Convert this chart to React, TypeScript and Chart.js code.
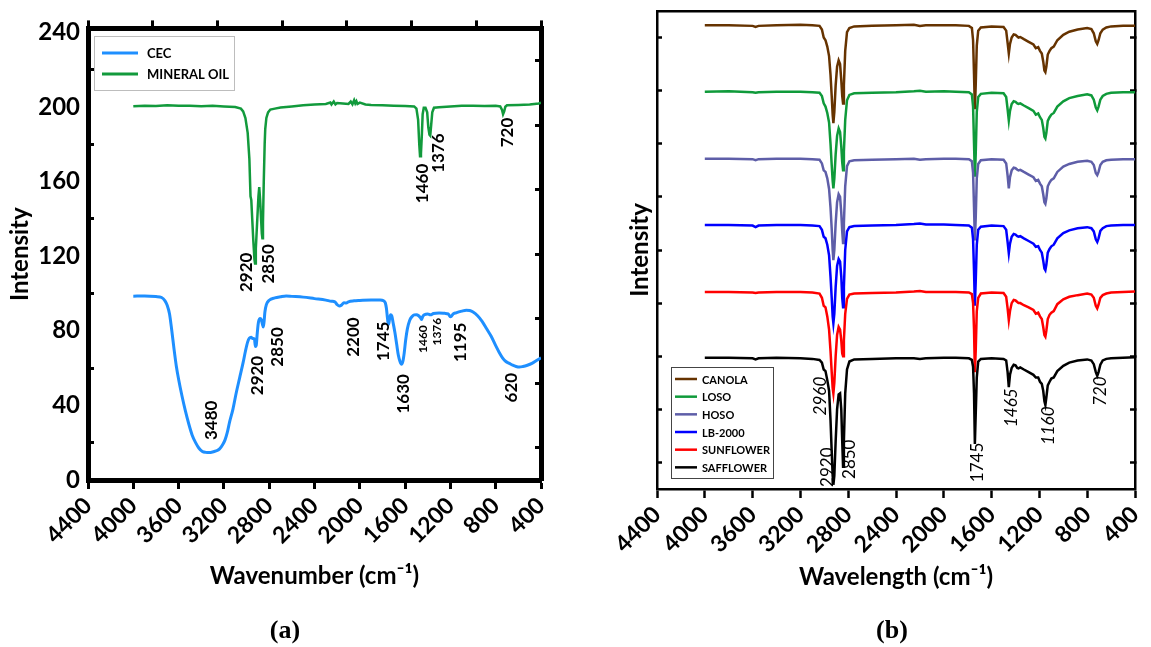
import React, { useEffect, useRef } from "react";
import { Chart, registerables } from "chart.js";

Chart.register(...registerables);

const SANS = "Lato, 'Open Sans', 'DejaVu Sans', sans-serif";

// ---------------- Panel (a) data ----------------
const cecWavenumber = [
  4000, 3900, 3800, 3750, 3720, 3700, 3680, 3660, 3640, 3620,
  3600, 3570, 3540, 3510, 3480, 3450, 3420, 3390, 3360, 3330,
  3300, 3270, 3240, 3210, 3190, 3170, 3150, 3120, 3090, 3060,
  3030, 3010, 2990, 2975, 2960, 2945, 2930, 2922, 2915, 2905,
  2895, 2880, 2870, 2860, 2852, 2845, 2838, 2825, 2800, 2750,
  2700, 2650, 2600, 2500, 2400, 2300, 2250, 2220, 2200, 2180,
  2160, 2140, 2120, 2100, 2050, 2000, 1900, 1820, 1790, 1775,
  1765, 1758, 1750, 1745, 1738, 1728, 1718, 1705, 1690, 1675,
  1660, 1645, 1632, 1620, 1608, 1595, 1580, 1560, 1540, 1520,
  1500, 1480, 1465, 1455, 1445, 1430, 1400, 1376, 1350, 1300,
  1250, 1220, 1200, 1190, 1175, 1150, 1100, 1060, 1030, 1000,
  960, 920, 880, 840, 800, 770, 740, 710, 680, 650,
  620, 590, 560, 520, 480, 440, 400,
];
const cecIntensity = [
  98.5, 98.6, 98.3, 97.8, 96, 93.5, 89, 80, 70, 61,
  54, 45, 37, 30, 24, 20, 17, 15.3, 14.8, 14.7,
  15, 15.6, 16.5, 19, 21.5, 25.5, 31, 38, 47, 55,
  63, 69, 74, 76, 76.5, 75.8, 75.5, 71.5, 72, 79,
  84.5, 86.5, 86, 83.5, 82, 85, 90, 94, 96.3, 97.6,
  98.2, 98.6, 98.4, 98, 97.2, 96.4, 95.8, 95.5, 94, 93.2,
  93.8, 95, 94.8, 95.5, 96, 96.2, 96.5, 96.5, 96, 95,
  92, 88, 84, 83.5, 86, 88.5, 88, 84, 79, 73,
  67, 63.5, 62, 63.5, 68, 75, 81, 85.5, 87.5, 88.5,
  88.6, 88, 87, 86, 87.5, 88.5, 89, 88.5, 89.2, 89.5,
  89.3, 89, 87.5, 87.8, 89, 89.6, 90.5, 91, 90.8, 90,
  88, 85, 81, 77, 72, 68.5, 65.5, 63.5, 62.5, 61.5,
  60.8, 60.5, 60.8, 61.5, 62.5, 64, 65.5,
];

const oilWavenumber = [
  4000, 3900, 3800, 3700, 3600, 3500, 3400, 3300, 3200, 3100,
  3050, 3030, 3010, 2990, 2975, 2965, 2958, 2950, 2940, 2930,
  2925, 2918, 2905, 2895, 2888, 2880, 2872, 2865, 2860, 2855,
  2848, 2840, 2835, 2825, 2810, 2790, 2750, 2700, 2600, 2500,
  2400, 2300, 2260, 2250, 2230, 2215, 2200, 2150, 2100, 2080,
  2065, 2050, 2040, 2030, 2020, 2000, 1950, 1900, 1800, 1700,
  1600, 1520, 1500, 1485, 1475, 1468, 1460, 1452, 1445, 1435,
  1420, 1405, 1395, 1385, 1378, 1370, 1360, 1345, 1300, 1200,
  1100, 1000, 900, 800, 760, 745, 735, 725, 715, 700,
  600, 500, 420, 400,
];
const oilIntensity = [
  200.3, 200.6, 200.4, 200.8, 200.5, 200.6, 200.3, 200.5, 200.2, 199.9,
  199.0, 197.5, 194, 186, 172, 152, 150, 140, 128, 118,
  116, 124, 140, 152, 157, 150, 140, 132, 129.5, 138,
  160, 180, 188, 194, 197, 198.5, 199, 199.6, 200.2, 200.8,
  201.2, 201.5, 202.3, 201.2, 202.8, 201.3, 202.0, 201.8, 201.5, 202.8,
  201.3, 203.5, 201.8, 203.0, 201.5, 202.2, 201.2, 201.0, 200.8, 200.6,
  200.4, 200.2, 199.0, 193, 180, 173.5, 175, 185, 196, 199.5,
  199.5, 197, 189, 185, 184.5, 190, 197, 199.5, 199.8, 200.2,
  200.5, 200.6, 200.4, 200.5, 200.2, 198.5, 196.0, 197.5, 200, 200.8,
  201.0, 201.2, 201.8, 202.2,
];

const peakTextsA = ["2920", "2850", "1460", "1376", "720", "3480", "2920", "2850", "2200", "1745", "1630", "1460", "1376", "1195", "620"];
const peakXA = [2996, 2809, 1443, 1301, 698, 3308, 2903, 2729, 2058, 1789, 1615, 1441, 1321, 1108, 656];
const peakYA = [111.3, 115.8, 158.9, 175.2, 186.2, 32, 56, 71.3, 76.6, 74.3, 46.2, 75.5, 79.5, 73.8, 49.5];
const peakSizeA = [17, 17, 17, 17, 17, 17, 17, 17, 17, 17, 17, 12, 12, 17, 17];

const xTicksLabels = [4400, 4000, 3600, 3200, 2800, 2400, 2000, 1600, 1200, 800, 400];
const yLabelsA = [0, 40, 80, 120, 160, 200, 240];

// ---------------- Panel (b) data ----------------
const wavenumbersB = [
  4000, 3800, 3600, 3575, 3550, 3400, 3200, 3100, 3040, 3020,
  3005, 2990, 2975, 2960, 2948, 2938, 2930, 2924, 2916, 2905,
  2893, 2880, 2868, 2858, 2850, 2843, 2836, 2825, 2810, 2790,
  2750, 2600, 2400, 2250, 2200, 2150, 2000, 1900, 1790, 1765,
  1755, 1747, 1740, 1733, 1724, 1712, 1690, 1600, 1500, 1478,
  1466, 1456, 1446, 1432, 1415, 1400, 1385, 1375, 1360, 1330,
  1290, 1250, 1230, 1210, 1195, 1180, 1168, 1158, 1150, 1142,
  1130, 1115, 1100, 1080, 1050, 1000, 950, 880, 800, 765,
  745, 728, 716, 705, 690, 670, 640, 600, 500, 400,
];
const canola = [
  8.73, 8.73, 8.72, 8.70, 8.72, 8.73, 8.74, 8.73, 8.72, 8.65,
  8.5, 8.45, 8.33, 8.15, 7.8, 7.4, 7.05, 6.89, 7.1, 7.6,
  7.95, 8.07, 8.0, 7.7, 7.4, 7.26, 7.6, 8.25, 8.6, 8.68,
  8.71, 8.72, 8.73, 8.74, 8.72, 8.73, 8.73, 8.73, 8.72, 8.68,
  8.45, 7.8, 7.15, 7.6, 8.35, 8.63, 8.69, 8.71, 8.7, 8.63,
  8.4, 8.2, 8.38, 8.5, 8.56, 8.55, 8.52, 8.5, 8.51, 8.47,
  8.42, 8.37, 8.3, 8.32, 8.25, 8.2, 8.05, 7.88, 7.85, 7.95,
  8.18, 8.25, 8.3, 8.33, 8.45, 8.55, 8.61, 8.65, 8.68, 8.66,
  8.58, 8.43, 8.38, 8.45, 8.58, 8.65, 8.69, 8.71, 8.72, 8.72,
];
const loso = [
  7.48, 7.49, 7.47, 7.46, 7.47, 7.48, 7.48, 7.47, 7.46, 7.40,
  7.26, 7.2, 7.08, 6.9, 6.5, 6.1, 5.8, 5.66, 5.85, 6.3,
  6.65, 6.79, 6.72, 6.45, 6.15, 6.0, 6.35, 6.95, 7.32, 7.42,
  7.45, 7.46, 7.47, 7.49, 7.5, 7.48, 7.49, 7.48, 7.47, 7.43,
  7.2, 6.5, 5.88, 6.3, 7.1, 7.38, 7.44, 7.46, 7.45, 7.38,
  7.15, 6.94, 7.12, 7.25, 7.3, 7.29, 7.26, 7.25, 7.26, 7.22,
  7.17, 7.12, 7.05, 7.07, 7.0, 6.95, 6.8, 6.63, 6.6, 6.7,
  6.93, 7.0, 7.05, 7.08, 7.2, 7.3, 7.36, 7.4, 7.43, 7.41,
  7.33, 7.18, 7.13, 7.2, 7.33, 7.4, 7.44, 7.46, 7.47, 7.47,
];
const hoso = [
  6.22, 6.22, 6.21, 6.19, 6.21, 6.22, 6.22, 6.21, 6.20, 6.13,
  6.0, 5.97, 5.85, 5.65, 5.3, 4.9, 4.5, 4.31, 4.5, 5.0,
  5.4, 5.55, 5.5, 5.2, 4.85, 4.63, 5.0, 5.7, 6.08, 6.17,
  6.19, 6.2, 6.21, 6.22, 6.2, 6.21, 6.22, 6.22, 6.21, 6.17,
  5.95, 5.3, 4.68, 5.1, 5.85, 6.12, 6.19, 6.21, 6.2, 6.13,
  5.9, 5.66, 5.87, 6.0, 6.05, 6.04, 6.01, 6.0, 6.01, 5.97,
  5.92, 5.87, 5.8, 5.82, 5.75, 5.7, 5.55, 5.4, 5.37, 5.47,
  5.7, 5.77, 5.82, 5.85, 5.97, 6.07, 6.12, 6.16, 6.18, 6.16,
  6.1, 5.95, 5.91, 5.97, 6.1, 6.16, 6.19, 6.2, 6.21, 6.21,
];
const lb2000 = [
  4.97, 4.97, 4.96, 4.93, 4.96, 4.97, 4.97, 4.96, 4.95, 4.88,
  4.75, 4.72, 4.6, 4.4, 4.0, 3.6, 3.25, 3.12, 3.3, 3.8,
  4.2, 4.33, 4.28, 4.0, 3.6, 3.42, 3.8, 4.5, 4.85, 4.93,
  4.95, 4.96, 4.97, 4.99, 5.0, 4.98, 4.98, 4.97, 4.96, 4.92,
  4.7, 4.1, 3.45, 3.9, 4.6, 4.88, 4.94, 4.96, 4.95, 4.88,
  4.65, 4.44, 4.62, 4.75, 4.8, 4.79, 4.76, 4.75, 4.76, 4.72,
  4.67, 4.62, 4.56, 4.57, 4.5, 4.45, 4.3, 4.15, 4.12, 4.22,
  4.45, 4.52, 4.57, 4.6, 4.72, 4.82, 4.87, 4.91, 4.93, 4.91,
  4.85, 4.7, 4.65, 4.72, 4.86, 4.91, 4.95, 4.96, 4.97, 4.97,
];
const sunflower = [
  3.71, 3.71, 3.70, 3.69, 3.70, 3.71, 3.71, 3.70, 3.68, 3.60,
  3.45, 3.42, 3.25, 3.0, 2.6, 2.2, 1.9, 1.8, 2.0, 2.5,
  2.9, 3.05, 3.0, 2.8, 2.55, 2.5, 2.8, 3.3, 3.58, 3.66,
  3.68, 3.69, 3.70, 3.72, 3.73, 3.71, 3.71, 3.71, 3.70, 3.67,
  3.5, 3.0, 2.2, 2.6, 3.35, 3.6, 3.68, 3.70, 3.69, 3.62,
  3.4, 3.18, 3.35, 3.5, 3.56, 3.55, 3.52, 3.5, 3.5, 3.46,
  3.42, 3.37, 3.3, 3.32, 3.25, 3.2, 3.05, 2.9, 2.87, 2.98,
  3.2, 3.28, 3.32, 3.35, 3.48, 3.57, 3.62, 3.65, 3.68, 3.66,
  3.6, 3.45, 3.4, 3.47, 3.6, 3.65, 3.68, 3.70, 3.71, 3.72,
];
const safflower = [
  2.47, 2.47, 2.46, 2.44, 2.46, 2.47, 2.46, 2.45, 2.43, 2.38,
  2.25, 2.22, 2.05, 1.85, 1.3, 0.7, 0.25, 0.08, 0.25, 0.9,
  1.5, 1.78, 1.8, 1.5, 0.9, 0.42, 0.9, 1.8, 2.25, 2.4,
  2.44, 2.45, 2.46, 2.46, 2.45, 2.46, 2.47, 2.47, 2.46, 2.43,
  2.3, 1.8, 0.85, 1.4, 2.1, 2.4, 2.45, 2.46, 2.45, 2.42,
  2.2, 1.92, 2.15, 2.28, 2.34, 2.33, 2.28, 2.27, 2.29, 2.25,
  2.2, 2.15, 2.1, 2.1, 2.02, 1.98, 1.85, 1.65, 1.58, 1.72,
  1.95, 2.02, 2.08, 2.1, 2.22, 2.32, 2.38, 2.42, 2.44, 2.42,
  2.35, 2.2, 2.13, 2.2, 2.34, 2.42, 2.45, 2.46, 2.47, 2.48,
];
const seriesNamesB = ["CANOLA", "LOSO", "HOSO", "LB-2000", "SUNFLOWER", "SAFFLOWER"];
const seriesColorsB = ["#663300", "#0F9A3A", "#5E5EA8", "#0000FF", "#FF0000", "#000000"];
const seriesValuesB = [canola, loso, hoso, lb2000, sunflower, safflower];

const peakTextsB = ["2960", "2920", "2850", "1745", "1465", "1160", "720"];
const peakXB = [3029, 2971, 2793, 1720, 1434, 1123, 685];
const peakYB = [1.75, 0.41, 0.56, 0.5, 1.53, 1.19, 1.84];
const peakItalicB = [true, false, false, false, true, true, true];

const sideTicksA = [0.5, 1.5, 2.5, 3.5, 4.5, 5.5, 6.5];
const sideTicksB = [0.5, 1.5, 2.5, 3.5, 4.5, 5.5, 6.5, 7.5, 8.5];

// ---------------- plugins ----------------
const boxLegendPlugin = {
  id: "boxLegend",
  afterDraw(chart: any, _a: any, o: any) {
    const { ctx, chartArea } = chart;
    const x0 = Math.round(chartArea.left + o.x);
    const y0 = Math.round(chartArea.top + o.y);
    ctx.save();
    ctx.fillStyle = "#fff";
    ctx.fillRect(x0, y0, o.w, o.h);
    ctx.strokeStyle = o.borderColor;
    ctx.lineWidth = 1;
    ctx.strokeRect(x0 + 0.5, y0 + 0.5, o.w, o.h);
    ctx.font = o.font;
    ctx.textBaseline = "middle";
    ctx.textAlign = "left";
    chart.data.datasets.forEach((ds: any, i: number) => {
      const cy = y0 + o.firstY + i * o.rowH;
      ctx.strokeStyle = ds.borderColor;
      ctx.lineWidth = o.lineWidth;
      ctx.beginPath();
      ctx.moveTo(x0 + o.lineX1, cy);
      ctx.lineTo(x0 + o.lineX2, cy);
      ctx.stroke();
      ctx.fillStyle = "#000";
      ctx.fillText(ds.label, x0 + o.textX, cy + 1);
    });
    ctx.restore();
  },
};

const peakLabelPlugin = {
  id: "peakLabels",
  afterDatasetsDraw(chart: any, _a: any, o: any) {
    const { ctx, scales } = chart;
    ctx.save();
    ctx.fillStyle = "#000";
    ctx.textAlign = "center";
    ctx.textBaseline = "middle";
    o.items.forEach((it: any) => {
      ctx.save();
      ctx.translate(scales.x.getPixelForValue(it.x), scales.y.getPixelForValue(it.y));
      ctx.rotate(-Math.PI / 2);
      ctx.font = it.font;
      ctx.fillText(it.text, 0, 0);
      ctx.restore();
    });
    ctx.restore();
  },
};

const tickFont = { family: SANS, size: 23, weight: "bold" as const };
const titleFont = { family: SANS, size: 24, weight: "bold" as const };

function bottomAxis(title: string, height: number, titlePad: number, borderW: number, tickW: number) {
  return {
    type: "linear",
    position: "bottom",
    reverse: true,
    min: 400,
    max: 4400,
    afterBuildTicks: (s: any) => {
      s.ticks = xTicksLabels.map((v) => ({ value: v }));
    },
    ticks: {
      autoSkip: false,
      minRotation: 45,
      maxRotation: 45,
      padding: 3,
      color: "#000",
      font: tickFont,
      callback: (v: any) => String(v),
    },
    grid: { display: true, drawOnChartArea: false, drawTicks: true, tickLength: 9, tickWidth: tickW, tickColor: "#000" },
    border: { display: true, color: "#000", width: borderW },
    title: { display: true, text: title, color: "#000", font: titleFont, padding: { top: 0, bottom: titlePad } },
    afterFit: (s: any) => {
      s.height = height;
    },
  };
}

function configA(): any {
  return {
    type: "line",
    data: {
      datasets: [
        {
          label: "CEC",
          data: cecWavenumber.map((x, i) => ({ x, y: cecIntensity[i] })),
          borderColor: "#1E8FFF",
          borderWidth: 3,
          pointRadius: 0,
          cubicInterpolationMode: "monotone",
          xAxisID: "x",
          yAxisID: "y",
        },
        {
          label: "MINERAL OIL",
          data: oilWavenumber.map((x, i) => ({ x, y: oilIntensity[i] })),
          borderColor: "#129A3C",
          borderWidth: 2.5,
          pointRadius: 0,
          tension: 0,
          xAxisID: "x",
          yAxisID: "y",
        },
      ],
    },
    options: {
      animation: false,
      responsive: false,
      devicePixelRatio: 1,
      layout: { padding: 0 },
      plugins: {
        legend: { display: false },
        tooltip: { enabled: false },
        boxLegend: {
          x: 6, y: 8, w: 140, h: 54, firstY: 17, rowH: 21,
          lineX1: 8, lineX2: 44, textX: 53, lineWidth: 3,
          borderColor: "#BDBDBD", font: `bold 13px ${SANS}`,
        },
        peakLabels: {
          items: peakTextsA.map((t, i) => ({
            text: t, x: peakXA[i], y: peakYA[i], font: `bold ${peakSizeA[i]}px ${SANS}`,
          })),
        },
      },
      scales: {
        x: bottomAxis("Wavenumber (cm\u207B\u00B9)", 167, 56, 5, 3),
        x2: {
          type: "linear", position: "top", min: 0, max: 7,
          ticks: { display: false, stepSize: 1 },
          grid: { display: true, drawOnChartArea: false, tickLength: 8, tickWidth: 3, tickColor: "#000" },
          border: { display: true, color: "#000", width: 5 },
          afterFit: (s: any) => { s.height = 25; },
        },
        y: {
          type: "linear", position: "left", min: 0, max: 242,
          afterBuildTicks: (s: any) => {
            const t: any[] = [];
            yLabelsA.forEach((v) => {
              t.push({ value: v });
              if (v < 240) t.push({ value: v + 20 });
            });
            s.ticks = t;
          },
          ticks: {
            color: "#000", font: { family: SANS, size: 24, weight: "bold" }, padding: 14,
            callback: (v: any) => (v % 40 === 0 ? String(v) : ""),
          },
          grid: {
            display: true, drawOnChartArea: false, tickLength: -6, tickWidth: 3,
            tickColor: (c: any) => (c.tick && c.tick.value % 40 === 20 ? "#000" : "rgba(0,0,0,0)"),
          },
          border: { display: true, color: "#000", width: 5 },
          title: { display: true, text: "Intensity", color: "#000", font: titleFont, padding: { top: 6, bottom: 0 } },
          afterFit: (s: any) => { s.width = 88; },
        },
        yR: {
          type: "linear", position: "right", min: 0, max: 7,
          afterBuildTicks: (s: any) => { s.ticks = sideTicksA.map((v) => ({ value: v })); },
          ticks: { display: false },
          grid: { display: true, drawOnChartArea: false, tickLength: -6, tickWidth: 3, tickColor: "#000" },
          border: { display: true, color: "#000", width: 5 },
          afterFit: (s: any) => { s.width = 34; },
        },
      },
    },
    plugins: [boxLegendPlugin, peakLabelPlugin],
  };
}

function configB(): any {
  const n = seriesNamesB.length;
  return {
    type: "line",
    data: {
      datasets: seriesNamesB.map((name, k) => ({
        label: name,
        data: wavenumbersB.map((x, i) => ({ x, y: seriesValuesB[k][i] })),
        borderColor: seriesColorsB[k],
        borderWidth: 2.5,
        pointRadius: 0,
        tension: 0,
        order: n - 1 - k,
        xAxisID: "x",
        yAxisID: "y",
      })),
    },
    options: {
      animation: false,
      responsive: false,
      devicePixelRatio: 1,
      layout: { padding: 0 },
      plugins: {
        legend: { display: false },
        tooltip: { enabled: false },
        boxLegend: {
          x: 14, y: 356, w: 102, h: 111, firstY: 12, rowH: 17.67,
          lineX1: 4, lineX2: 26, textX: 31, lineWidth: 2.5,
          borderColor: "#444", font: `bold 11px ${SANS}`,
        },
        peakLabels: {
          items: peakTextsB.map((t, i) => ({
            text: t, x: peakXB[i], y: peakYB[i],
            font: `${peakItalicB[i] ? "italic " : ""}17px ${SANS}`,
          })),
        },
      },
      scales: {
        x: bottomAxis("Wavelength (cm\u207B\u00B9)", 158, 55, 2.5, 2.5),
        x2: {
          type: "linear", position: "top", min: 0, max: 1,
          ticks: { display: false },
          grid: { display: false },
          border: { display: true, color: "#000", width: 2.5 },
          afterFit: (s: any) => { s.height = 11; },
        },
        y: {
          type: "linear", position: "left", min: 0, max: 9,
          afterBuildTicks: (s: any) => { s.ticks = sideTicksB.map((v) => ({ value: v })); },
          ticks: { display: false },
          grid: { display: true, drawOnChartArea: false, tickLength: -5, tickWidth: 2.5, tickColor: "#000" },
          border: { display: true, color: "#000", width: 2.5 },
          title: { display: true, text: "Intensity", color: "#000", font: titleFont, padding: { top: 51, bottom: 0 } },
          afterFit: (s: any) => { s.width = 82; },
        },
        yR: {
          type: "linear", position: "right", min: 0, max: 9,
          afterBuildTicks: (s: any) => { s.ticks = sideTicksB.map((v) => ({ value: v })); },
          ticks: { display: false },
          grid: { display: true, drawOnChartArea: false, tickLength: -5, tickWidth: 2.5, tickColor: "#000" },
          border: { display: true, color: "#000", width: 2.5 },
          afterFit: (s: any) => { s.width = 40; },
        },
      },
    },
    plugins: [boxLegendPlugin, peakLabelPlugin],
  };
}

const captionStyle = (cx: number): React.CSSProperties => ({
  position: "absolute",
  left: cx - 50,
  width: 100,
  top: 615,
  height: 34,
  lineHeight: "34px",
  textAlign: "center",
  font: "bold 26px 'Liberation Serif', 'Times New Roman', serif",
  color: "#000",
});

export default function App() {
  const refA = useRef<HTMLCanvasElement>(null);
  const refB = useRef<HTMLCanvasElement>(null);
  useEffect(() => {
    const a = new Chart(refA.current as HTMLCanvasElement, configA());
    const b = new Chart(refB.current as HTMLCanvasElement, configB());
    return () => {
      a.destroy();
      b.destroy();
    };
  }, []);
  return (
    <div style={{ position: "fixed", left: 0, top: 0, width: 1151, height: 647, background: "#fff", overflow: "hidden" }}>
      <canvas ref={refA} width={575} height={647} style={{ position: "absolute", left: 0, top: 0, width: 575, height: 647 }} />
      <canvas ref={refB} width={600} height={647} style={{ position: "absolute", left: 575, top: 0, width: 600, height: 647 }} />
      <div style={captionStyle(285)}>(a)</div>
      <div style={captionStyle(892)}>(b)</div>
    </div>
  );
}
